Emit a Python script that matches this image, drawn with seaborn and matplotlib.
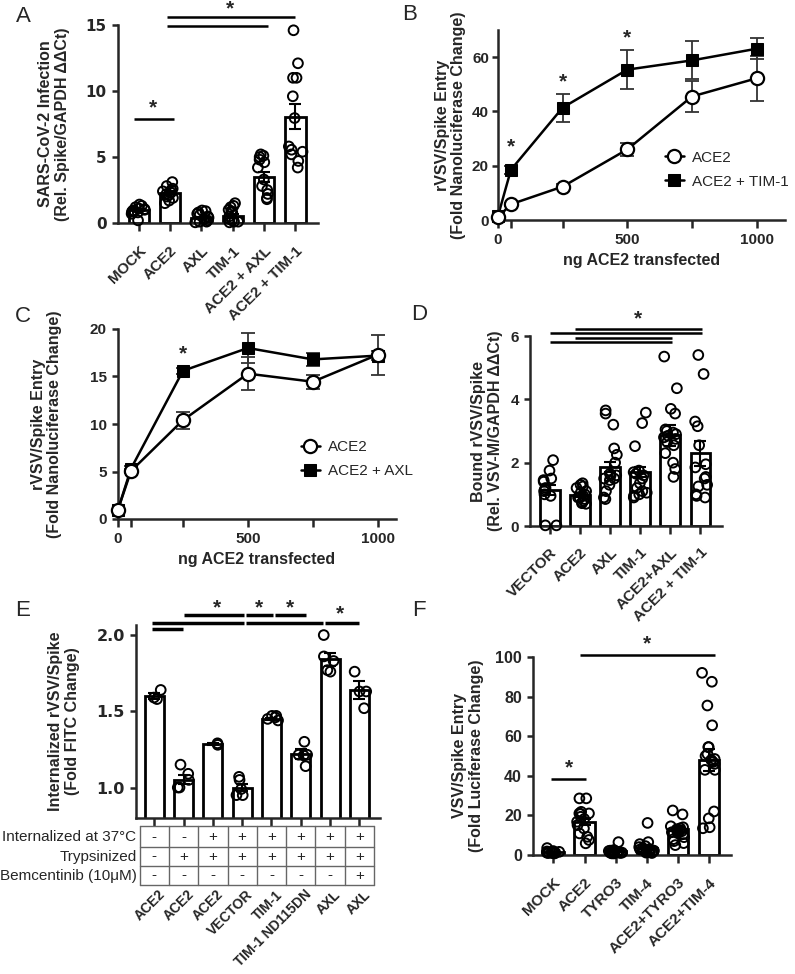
#!/usr/bin/env python3
import numpy as np
import pandas as pd
import matplotlib
matplotlib.use("Agg")
import matplotlib.pyplot as plt
import matplotlib.transforms as mtransforms
import seaborn as sns

W, H = 795, 974

# ---- Panel A: SARS-CoV-2 infection
a_labels = ["MOCK", "ACE2", "AXL", "TIM-1", "ACE2 + AXL", "ACE2 + TIM-1"]
a_mean = [1.0, 2.3, 0.4, 0.55, 3.5, 8.05]
a_sem = [0.06, 0.14, 0.09, 0.14, 0.4, 0.95]
a_points = [
    [1.4, 1.3, 1.2, 1.1, 1.05, 1.0, 0.95, 0.9, 0.85, 0.8, 0.7, 0.2],
    [3.1, 2.8, 2.6, 2.5, 2.4, 2.3, 2.2, 2.1, 2.0, 1.9, 1.7, 1.5],
    [0.95, 0.9, 0.8, 0.7, 0.6, 0.5, 0.4, 0.3, 0.2, 0.1, 0.1, 0.05],
    [1.5, 1.3, 1.2, 1.0, 0.9, 0.8, 0.5, 0.3, 0.2, 0.1, 0.1, 0.05],
    [5.2, 5.1, 5.0, 4.8, 4.6, 4.2, 3.3, 2.8, 2.5, 2.2, 1.9, 1.8],
    [14.6, 12.1, 11.0, 11.0, 9.6, 7.95, 5.8, 5.55, 5.4, 5.2, 4.7, 4.2],
]

# ---- Panels B and C: dose response
doses = [0, 50, 250, 500, 750, 1000]
b_ace2 = [1.0, 5.8, 12.3, 26.0, 45.5, 52.2]
b_ace2_err = [0.3, 0.6, 0.8, 2.5, 5.8, 8.2]
b_tim1 = [1.5, 18.5, 41.4, 55.4, 58.8, 63.1]
b_tim1_err = [0.3, 1.5, 5.2, 7.2, 7.0, 3.9]
c_ace2 = [1.0, 5.05, 10.4, 15.3, 14.45, 17.3]
c_ace2_err = [0.1, 0.2, 0.9, 1.7, 0.75, 2.1]
c_axl = [1.0, 5.3, 15.6, 18.0, 16.8, 17.2]
c_axl_err = [0.1, 0.3, 0.3, 1.55, 0.7, 0.5]

# ---- Panel D: bound virus
d_labels = ["VECTOR", "ACE2", "AXL", "TIM-1", "ACE2+AXL", "ACE2 + TIM-1"]
d_mean = [1.13, 0.98, 1.87, 1.71, 2.87, 2.3]
d_sem = [0.15, 0.05, 0.16, 0.16, 0.33, 0.4]
d_points = [
    [2.08, 1.75, 1.5, 1.45, 1.4, 1.2, 1.15, 1.1, 1.0, 0.95, 0.02, 0.02],
    [1.35, 1.3, 1.25, 1.2, 1.1, 1.0, 0.95, 0.9, 0.85, 0.8, 0.75, 0.7, 0.72, 0.9, 1.05],
    [3.65, 3.55, 3.2, 2.45, 2.25, 2.0, 1.6, 1.5, 1.65, 1.6, 1.5, 1.45, 1.3, 1.1, 0.85, 0.9],
    [3.58, 3.25, 2.52, 1.75, 1.7, 1.65, 1.6, 1.5, 1.35, 1.2, 1.1, 1.05, 1.0, 0.95, 0.9],
    [5.35, 4.35, 3.7, 3.55, 3.05, 3.0, 2.95, 2.9, 2.85, 2.8, 2.75, 2.65, 2.55, 2.3, 2.0, 1.8, 1.55],
    [5.4, 4.8, 3.3, 3.15, 2.55, 1.95, 1.85, 1.55, 1.5, 1.3, 1.25, 1.0, 0.95, 0.9],
]

# ---- Panel E: internalized virus
e_labels = ["ACE2", "ACE2", "ACE2", "VECTOR", "TIM-1", "TIM-1 ND115DN", "AXL", "AXL"]
e_mean = [1.6, 1.05, 1.285, 1.0, 1.45, 1.22, 1.84, 1.64]
e_sem = [0.02, 0.03, 0.005, 0.025, 0.008, 0.03, 0.044, 0.06]
e_points = [
    [1.64, 1.58, 1.59],
    [1.15, 1.09, 1.05, 1.0, 1.0],
    [1.29, 1.28],
    [1.05, 1.07, 0.99, 0.95, 0.95],
    [1.47, 1.47, 1.46, 1.45, 1.44],
    [1.3, 1.215, 1.215, 1.21, 1.14],
    [2.0, 1.86, 1.83, 1.77, 1.76],
    [1.76, 1.63, 1.63, 1.52],
]
e_rows = ["Internalized at 37\u00b0C", "Trypsinized", "Bemcentinib (10\u03bcM)"]
e_signs = [
    ["-", "-", "+", "+", "+", "+", "+", "+"],
    ["-", "+", "+", "+", "+", "+", "+", "+"],
    ["-", "-", "-", "-", "-", "-", "-", "+"],
]

# ---- Panel F: VSV/Spike entry
f_labels = ["MOCK", "ACE2", "TYRO3", "TIM-4", "ACE2+TYRO3", "ACE2+TIM-4"]
f_mean = [1.5, 16.6, 1.9, 3.6, 12.9, 48.0]
f_sem = [0.2, 1.6, 0.4, 1.0, 1.2, 5.4]
f_points = [
    [3.5, 2.0, 1.8, 1.6, 1.5, 1.4, 1.3, 1.2, 1.1, 1.0, 1.0, 0.9, 0.8, 1.2, 1.5],
    [28.6, 28.6, 21.8, 21.0, 21.0, 20.7, 19.3, 18.2, 16.8, 15.1, 13.4, 10.9, 9.2, 7.6, 5.9],
    [6.5, 2.5, 2.0, 1.8, 1.5, 1.5, 1.2, 1.0, 1.0, 0.8, 0.8, 1.2, 1.4, 2.2, 1.6],
    [16.2, 6.5, 5.5, 4.5, 4.0, 3.5, 3.0, 2.8, 2.5, 2.2, 2.0, 1.8, 1.5, 1.5, 1.2, 1.0],
    [22.5, 20.5, 14.5, 14.0, 13.5, 13.0, 12.5, 12.5, 12.0, 11.5, 11.0, 10.5, 9.0, 8.0, 7.0, 6.0, 5.0],
    [92, 87.5, 75.5, 65.5, 54.5, 54.5, 51, 50, 48.5, 48, 47, 46, 43, 43, 22, 18.5, 14, 13.5],
]

sns.set_theme(style="ticks")
plt.rcParams["font.family"] = ["Liberation Sans", "DejaVu Sans"]
plt.rcParams.update({
    "font.weight": "bold",
    "axes.labelweight": "bold",
    "axes.linewidth": 1.8,
    "xtick.major.width": 1.8,
    "ytick.major.width": 1.8,
    "xtick.major.size": 6,
    "ytick.major.size": 4.5,
    "xtick.labelsize": 11,
    "ytick.labelsize": 11,
    "axes.labelsize": 11.5,
})

np.random.seed(3)
fig = plt.figure(figsize=(W / 100, H / 100), dpi=100)


def px_axes(left, right, top, bottom):
    return fig.add_axes([left / W, 1 - bottom / H, (right - left) / W, (bottom - top) / H])


def bar_panel(ax, means, sems, points, ylim, yticks):
    xs = list(range(len(means)))
    sns.barplot(x=xs, y=means, color="white", saturation=1, edgecolor="black",
                linewidth=2, width=0.65, errorbar=None, ax=ax)
    ax.errorbar(xs, means, yerr=sems, fmt="none", ecolor="black", elinewidth=1.5,
                capsize=4, capthick=1.5, zorder=3)
    px = [i for i, vals in enumerate(points) for _ in vals]
    py = [v for vals in points for v in vals]
    sns.stripplot(x=px, y=py, jitter=0.24, size=7, color="white", edgecolor="black",
                  linewidth=1.4, ax=ax, zorder=4, clip_on=False)
    for coll in ax.collections:
        coll.set_facecolor("none")
    ax.set_xlim(-0.66, len(means) - 0.28)
    ax.set_ylim(*ylim)
    ax.set_yticks(yticks)
    ax.tick_params(axis="x", length=6)
    sns.despine(ax=ax)


def wide_yticks(ax, size):
    # the reference panels are stretched sideways, a wider face matches better
    for lbl in ax.get_yticklabels():
        lbl.set_fontfamily("DejaVu Sans")
        lbl.set_fontsize(size)


def sig(ax, lines, stars, lw=1.8):
    for x1, x2, y in lines:
        ax.plot([x1, x2], [y, y], color="black", lw=lw, clip_on=False, solid_capstyle="butt")
    for x, y in stars:
        ax.text(x, y, "*", ha="center", va="center", fontsize=15, clip_on=False)


def two_line_ylabel(ax, text, xpos):
    ax.set_ylabel(text, linespacing=1.15)
    ax.yaxis.set_label_coords(xpos, 0.5)


# ---- A
ax = px_axes(118, 318, 25, 223)
bar_panel(ax, a_mean, a_sem, a_points, (0, 15), [0, 5, 10, 15])
ax.set_xticklabels(a_labels, rotation=45, ha="right", rotation_mode="anchor")
ax.tick_params(axis="x", pad=9)
wide_yticks(ax, 11)
two_line_ylabel(ax, "SARS-CoV-2 Infection\n(Rel. Spike/GAPDH \u0394\u0394Ct)", -0.24)
sig(ax, [(-0.16, 1.13, 7.9), (0.89, 4.98, 15.6), (0.89, 4.12, 14.95)],
    [(0.46, 8.7), (2.9, 16.2)])

# ---- B
ax = px_axes(498, 785, 30, 220)
ax.errorbar(doses, b_ace2, yerr=b_ace2_err, fmt="none", ecolor="#333333", elinewidth=1.3,
            capsize=5, capthick=1.3, zorder=1.5)
ax.errorbar(doses, b_tim1, yerr=b_tim1_err, fmt="none", ecolor="#333333", elinewidth=1.3,
            capsize=5, capthick=1.3, zorder=1.5)
sns.lineplot(x=doses, y=b_ace2, ax=ax, color="black", lw=1.8, marker="o", markersize=9.5,
             markerfacecolor="white", markeredgecolor="black", markeredgewidth=1.6,
             label="ACE2", clip_on=False, zorder=3)
sns.lineplot(x=doses, y=b_tim1, ax=ax, color="black", lw=1.8, marker="s", markersize=8.5,
             markerfacecolor="black", markeredgecolor="black", label="ACE2 + TIM-1",
             clip_on=False, zorder=2.5)
ax.set_xlim(0, 1110)
ax.set_ylim(0, 70)
ax.set_yticks([0, 20, 40, 60])
ax.set_xticks(doses)
ax.set_xticklabels(["0", "", "", "500", "", "1000"])
ax.tick_params(axis="y", pad=2)
ax.set_xlabel("ng ACE2 transfected")
two_line_ylabel(ax, "rVSV/Spike Entry\n(Fold Nanoluciferase Change)", -0.11)
ax.legend(frameon=False, loc="center left", bbox_to_anchor=(0.555, 0.265), handlelength=1.25,
          handletextpad=0.55, labelspacing=0.65, borderpad=0,
          prop={"weight": "normal", "size": 11})
sig(ax, [], [(50, 27), (250, 51), (500, 67)])
sns.despine(ax=ax)

# ---- C
ax = px_axes(118, 396, 329, 519)
ax.errorbar(doses, c_axl, yerr=c_axl_err, fmt="none", ecolor="#333333", elinewidth=1.3,
            capsize=5, capthick=1.3, zorder=1.5)
ax.errorbar(doses, c_ace2, yerr=c_ace2_err, fmt="none", ecolor="#333333", elinewidth=1.3,
            capsize=5, capthick=1.3, zorder=1.5)
sns.lineplot(x=doses, y=c_ace2, ax=ax, color="black", lw=1.8, marker="o", markersize=9.5,
             markerfacecolor="white", markeredgecolor="black", markeredgewidth=1.6,
             label="ACE2", clip_on=False, zorder=3)
sns.lineplot(x=doses, y=c_axl, ax=ax, color="black", lw=1.8, marker="s", markersize=8.5,
             markerfacecolor="black", markeredgecolor="black", label="ACE2 + AXL",
             clip_on=False, zorder=2.5)
ax.set_xlim(0, 1070)
ax.set_ylim(0, 20)
ax.set_yticks([0, 5, 10, 15, 20])
ax.set_xticks(doses)
ax.set_xticklabels(["0", "", "", "500", "", "1000"])
ax.set_xlabel("ng ACE2 transfected")
two_line_ylabel(ax, "rVSV/Spike Entry\n(Fold Nanoluciferase Change)", -0.2)
ax.legend(frameon=False, loc="center left", bbox_to_anchor=(0.63, 0.315), handlelength=1.25,
          handletextpad=0.55, labelspacing=0.65, borderpad=0,
          prop={"weight": "normal", "size": 11})
sig(ax, [], [(250, 17.4)])
sns.despine(ax=ax)

# ---- D
ax = px_axes(530, 722, 336, 526)
bar_panel(ax, d_mean, d_sem, d_points, (0, 6), [0, 2, 4, 6])
ax.set_xticklabels(d_labels, rotation=45, ha="right", rotation_mode="anchor")
ax.tick_params(axis="x", pad=8)
two_line_ylabel(ax, "Bound rVSV/Spike\n(Rel. VSV-M/GAPDH \u0394\u0394Ct)", -0.14)
sig(ax, [(0.83, 5.06, 6.22), (0, 5.06, 6.09), (0.83, 4.07, 5.94), (0, 4.07, 5.8)],
    [(2.94, 6.55)])

# ---- E
ax = px_axes(136, 380, 625, 818)
bar_panel(ax, e_mean, e_sem, e_points, (0.8, 2.066), [1.0, 1.5, 2.0])
ax.set_xlim(-0.62, 7.7)
ax.set_yticklabels(["1.0", "1.5", "2.0"])
wide_yticks(ax, 11.5)
ax.set_xticklabels([])
ax.tick_params(axis="x", length=6)
two_line_ylabel(ax, "Internalized rVSV/Spike\n(Fold FITC Change)", -0.23)
sig(ax, [(-0.09, 0.97, 2.039), (-0.09, 3.06, 2.081), (3.13, 5.75, 2.081),
         (5.84, 7.0, 2.081), (1.02, 3.07, 2.131), (3.13, 4.04, 2.131), (4.12, 5.17, 2.131)],
    [(2.13, 2.18), (3.58, 2.18), (4.63, 2.18), (6.34, 2.137)], lw=2.5)
trans = mtransforms.blended_transform_factory(ax.transData, ax.transAxes)
row_edges = [-0.043, -0.152, -0.247, -0.349]
n = len(e_labels)
for y in row_edges:
    ax.plot([-0.5, n - 0.5], [y, y], transform=trans, color="#666666", lw=1, clip_on=False)
for k in range(n + 1):
    ax.plot([k - 0.5, k - 0.5], [row_edges[0], row_edges[-1]], transform=trans,
            color="#666666", lw=1, clip_on=False)
for r, (name, signs) in enumerate(zip(e_rows, e_signs)):
    yc = (row_edges[r] + row_edges[r + 1]) / 2
    ax.text(-0.6, yc, name, transform=trans, ha="right", va="center", fontsize=11,
            fontweight="normal")
    for k, s in enumerate(signs):
        ax.text(k, yc, s, transform=trans, ha="center", va="center", fontsize=11,
                fontweight="normal")
for k, lab in enumerate(e_labels):
    ax.text(k + 0.12, -0.36, lab, transform=trans, rotation=45, ha="right", va="top",
            rotation_mode="anchor", fontsize=10)

# ---- F
ax = px_axes(533, 731, 657, 855)
bar_panel(ax, f_mean, f_sem, f_points, (0, 100), [0, 20, 40, 60, 80, 100])
ax.set_xticklabels(f_labels, rotation=45, ha="right", rotation_mode="anchor")
ax.tick_params(axis="x", pad=9)
ax.tick_params(axis="y", labelsize=11.5)
two_line_ylabel(ax, "VSV/Spike Entry\n(Fold Luciferase Change)", -0.25)
sig(ax, [(-0.08, 1.05, 38.2), (0.84, 5.2, 101.2)], [(0.5, 44), (3.01, 106.5)])

# ---- panel letters
for letter, x, y in [("A", 23, 17), ("B", 410, 15), ("C", 23, 317), ("D", 419, 314),
                     ("E", 23, 610), ("F", 419, 611)]:
    fig.text(x / W, 1 - y / H, letter, ha="center", va="center", fontsize=16,
             fontweight="normal")

fig.savefig("out.png", dpi=100)
